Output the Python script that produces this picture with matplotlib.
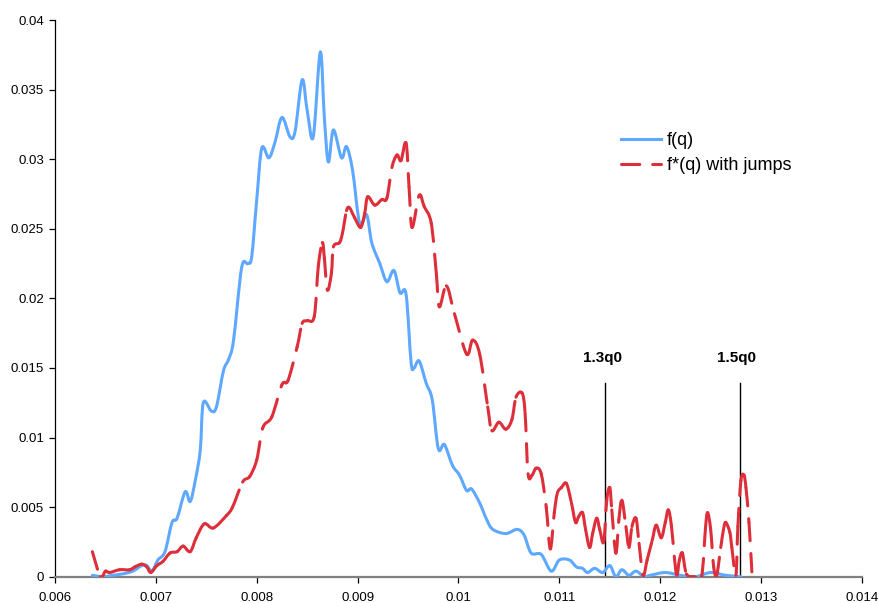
import numpy as np
import matplotlib
matplotlib.use('Agg')
import matplotlib.pyplot as plt
from matplotlib.collections import PathCollection
from matplotlib.patches import PathPatch
from matplotlib.path import Path
from matplotlib.lines import Line2D
from matplotlib.ticker import FuncFormatter

plt.rcParams['font.family'] = ['Liberation Sans', 'DejaVu Sans']

# f(q) - smooth density
q_f = [0.00637, 0.00648, 0.00657, 0.00667, 0.00677, 0.00686, 0.00691, 0.00696,
       0.00702, 0.00709, 0.00716, 0.00721, 0.00729, 0.00734, 0.00739, 0.00744,
       0.00747, 0.00755, 0.0076, 0.00767, 0.00772, 0.00777, 0.00785, 0.00791,
       0.00795, 0.0080, 0.00805, 0.00812, 0.00818, 0.00825, 0.00833, 0.00838,
       0.00845, 0.0085, 0.00856, 0.00863, 0.00867, 0.00871, 0.00876, 0.00884,
       0.00889, 0.00895, 0.00902, 0.00909, 0.00914, 0.00922, 0.00929, 0.00936,
       0.00942, 0.00948, 0.00953, 0.00956, 0.00961, 0.00968, 0.00974, 0.0098,
       0.00986, 0.00994, 0.01001, 0.01008, 0.01013, 0.01021, 0.01028, 0.01034,
       0.01047, 0.01058, 0.01065, 0.01072, 0.01082, 0.01092, 0.0110, 0.0111,
       0.01117, 0.01123, 0.01128, 0.01135, 0.01143, 0.0115, 0.01156, 0.01162,
       0.01169, 0.01176, 0.01184, 0.0119, 0.01205, 0.0122, 0.01235, 0.0125,
       0.01265, 0.0128]
f_val = [0.0001, 0.0, 0.0001, 0.0002, 0.0004, 0.0008, 0.0008, 0.0004,
         0.0012, 0.0018, 0.0039, 0.0042, 0.0061, 0.0054, 0.0069, 0.0091,
         0.0125, 0.0119, 0.0122, 0.0148, 0.0156, 0.0170, 0.0222, 0.0225,
         0.0230, 0.0271, 0.0308, 0.0301, 0.0312, 0.0330, 0.0316, 0.0320,
         0.0357, 0.0335, 0.0316, 0.0377, 0.0330, 0.0298, 0.0321, 0.0301,
         0.0309, 0.0292, 0.0254, 0.0260, 0.0240, 0.0225, 0.0212, 0.0220,
         0.0204, 0.0203, 0.0154, 0.0150, 0.0155, 0.0139, 0.0127, 0.0092,
         0.0095, 0.0080, 0.0073, 0.0062, 0.0063, 0.0053, 0.0041, 0.0034,
         0.0031, 0.0034, 0.0030, 0.0017, 0.0016, 0.0004, 0.0012, 0.0012,
         0.0007, 0.0006, 0.0003, 0.0006, 0.0003, 0.0008, 0.0, 0.0005,
         0.0001, 0.0004, 0.0, 0.0001, 0.0003, 0.0001, 0.0, 0.0003,
         0.0001, 0.0]

# f*(q) with jumps
q_j = [0.00637, 0.00645, 0.0065, 0.00654, 0.00664, 0.00674, 0.00679, 0.00686,
       0.00691, 0.00695, 0.00701, 0.00707, 0.00714, 0.00721, 0.00727, 0.00734,
       0.0074, 0.00748, 0.00757, 0.0077, 0.00776, 0.00786, 0.00793, 0.0080,
       0.00806, 0.00815, 0.00825, 0.00831, 0.0084, 0.00845, 0.0085, 0.00857,
       0.00861, 0.00865, 0.00867, 0.0087, 0.00874, 0.00876, 0.00882, 0.00885,
       0.00889, 0.00892, 0.00897, 0.00903, 0.00907, 0.0091, 0.00917, 0.00924,
       0.00929, 0.00934, 0.00939, 0.00943, 0.00948, 0.00951, 0.00954, 0.00961,
       0.00966, 0.00973, 0.00978, 0.00981, 0.00988, 0.00996, 0.01008, 0.01014,
       0.01021, 0.01029, 0.01033, 0.0104, 0.01047, 0.01053, 0.01057, 0.01063,
       0.01066, 0.01069, 0.01073, 0.01077, 0.01082, 0.01087, 0.01091, 0.01095,
       0.01098, 0.01102, 0.01107, 0.01112, 0.01116, 0.01119, 0.01123, 0.01126,
       0.0113, 0.01133, 0.01137, 0.0114, 0.01144, 0.01147, 0.0115, 0.01152,
       0.01156, 0.01159, 0.01162, 0.01166, 0.01169, 0.01172, 0.01176, 0.01179,
       0.01183, 0.01187, 0.01192, 0.01196, 0.01201, 0.01205, 0.01208, 0.01211,
       0.01216, 0.01219, 0.01222, 0.01226, 0.01234, 0.01241, 0.01245, 0.01247,
       0.0125, 0.01253, 0.01256, 0.0126, 0.01263, 0.01265, 0.01269, 0.01271,
       0.01275, 0.01277, 0.0128, 0.01283, 0.01285, 0.01288, 0.01291]
j_val = [0.0018, 0.0, 0.0004, 0.0003, 0.0005, 0.0005, 0.0007, 0.0009,
         0.0007, 0.0003, 0.0008, 0.0011, 0.0017, 0.0018, 0.0022, 0.0018,
         0.0028, 0.0038, 0.0035, 0.0044, 0.0050, 0.0068, 0.0072, 0.0084,
         0.0107, 0.0115, 0.0138, 0.0141, 0.0165, 0.0182, 0.0184, 0.0187,
         0.0223, 0.0240, 0.0229, 0.0206, 0.0218, 0.0237, 0.0240, 0.0247,
         0.0263, 0.0265, 0.0258, 0.0251, 0.0261, 0.0273, 0.0267, 0.0271,
         0.0272, 0.0294, 0.0303, 0.0299, 0.0312, 0.0280, 0.0251, 0.0274,
         0.0266, 0.0254, 0.0218, 0.0194, 0.0209, 0.0189, 0.0160, 0.0170,
         0.0160, 0.0122, 0.0105, 0.0111, 0.0106, 0.0113, 0.0129, 0.0132,
         0.0118, 0.0074, 0.0073, 0.0078, 0.0074, 0.0050, 0.0020, 0.0046,
         0.0060, 0.0064, 0.0067, 0.0053, 0.0039, 0.0043, 0.0046, 0.0034,
         0.0021, 0.0031, 0.0042, 0.0034, 0.0025, 0.0055, 0.0064, 0.0048,
         0.0017, 0.0041, 0.0055, 0.0036, 0.0021, 0.0036, 0.0042, 0.0024,
         0.0001, 0.0012, 0.0026, 0.0037, 0.0028, 0.0039, 0.0048, 0.0037,
         0.0002, 0.0012, 0.0017, 0.0002, 0.0, 0.0, 0.0036, 0.0046,
         0.0034, 0.0007, 0.0001, 0.0021, 0.0035, 0.0039, 0.0032, 0.0021,
         0.0001, 0.0036, 0.0069, 0.0073, 0.0064, 0.0039, 0.0002]

# reference lines
q_marks = [0.011455, 0.012789]
mark_labels = ['1.3q0', '1.5q0']

BLUE = '#5EA8FF'
RED = '#DE2E3A'
LW = 2.2
DASH = (0, (6, 4.2))


def bezier_segments(x, y):
    # smoothed line like a spreadsheet: one cubic bezier per pair of points
    p = np.column_stack([x, y])
    n = len(p)
    out = []
    for i in range(n - 1):
        p0 = p[max(i - 1, 0)]
        p1, p2 = p[i], p[i + 1]
        p3 = p[min(i + 2, n - 1)]
        c1 = p1 + (p2 - p0) / 6.0
        c2 = p2 - (p3 - p1) / 6.0
        out.append([p1, c1, c2, p2])
    return out


fig = plt.figure(figsize=(8.79, 6.03), dpi=100)
ax = fig.add_axes([0.0626, 0.0436, 0.918, 0.9232])

# blue: one continuous smoothed path
bs = bezier_segments(q_f, f_val)
verts = [bs[0][0]]
codes = [Path.MOVETO]
for s in bs:
    verts += [s[1], s[2], s[3]]
    codes += [Path.CURVE4] * 3
ax.add_patch(PathPatch(Path(verts, codes), fill=False, edgecolor=BLUE, lw=LW,
                       joinstyle='round', capstyle='round', zorder=3))

# red: dash pattern restarts on every segment, so only the long jumps show gaps
rpaths = [Path(s, [Path.MOVETO] + [Path.CURVE4] * 3) for s in bezier_segments(q_j, j_val)]
pc = PathCollection(rpaths, facecolors='none', edgecolors=RED, linewidths=LW,
                    linestyles=[DASH], transform=ax.transData, zorder=4)
pc.set_capstyle('round')
ax.add_collection(pc)

for qm, lab in zip(q_marks, mark_labels):
    ax.plot([qm, qm], [0, 0.0139], color='black', lw=1.0, zorder=2)
    ax.text(qm - 0.00003, 0.0157, lab, ha='center', va='center',
            fontsize=11, fontweight='bold')

ax.set_xlim(0.006, 0.014)
ax.set_ylim(0, 0.04)
ax.set_xticks(np.arange(0.006, 0.01401, 0.001))
ax.set_yticks(np.arange(0, 0.04001, 0.005))
fmt = FuncFormatter(lambda v, p: '0' if abs(v) < 1e-12 else ('%.3f' % v).rstrip('0'))
ax.xaxis.set_major_formatter(fmt)
ax.yaxis.set_major_formatter(fmt)

for s in ['top', 'right']:
    ax.spines[s].set_visible(False)
ax.spines['left'].set_color('black')
ax.spines['left'].set_linewidth(0.9)
ax.spines['bottom'].set_color('#808080')
ax.spines['bottom'].set_linewidth(1.6)
ax.tick_params(axis='y', direction='out', length=4, width=0.9, labelsize=9.5, pad=4)
ax.tick_params(axis='x', direction='out', length=4, width=0.9, color='black',
               labelsize=9.5, pad=7)

handles = [Line2D([], [], color=BLUE, lw=LW),
           Line2D([], [], color=RED, lw=LW, linestyle=DASH, dash_capstyle='round')]
fig.legend(handles, ['f(q)', 'f*(q) with jumps'], loc='upper left',
           bbox_to_anchor=(0.707, 0.781), frameon=False, fontsize=13,
           handlelength=2.2, handletextpad=0.3, labelspacing=0.45,
           borderpad=0, borderaxespad=0)

fig.savefig('out.png', dpi=100)
